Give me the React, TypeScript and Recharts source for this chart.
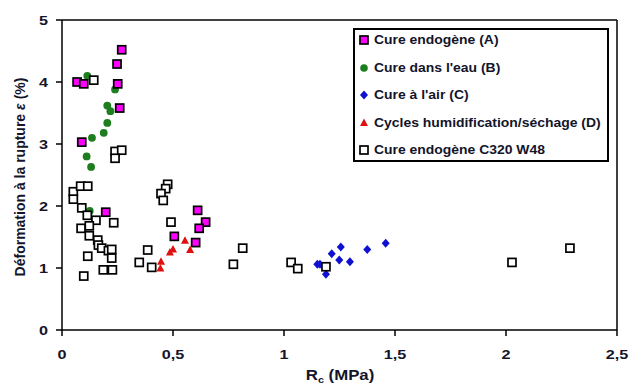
import React from 'react';
import { ScatterChart, Scatter, XAxis, YAxis, ReferenceLine } from 'recharts';

const seriesNames = [
  'Cure endogène (A)',
  "Cure dans l'eau (B)",
  "Cure à l'air (C)",
  'Cycles humidification/séchage (D)',
  'Cure endogène C320 W48',
];

const curingA = [
  { x: 0.269, y: 4.52 }, { x: 0.248, y: 4.29 }, { x: 0.068, y: 4.0 }, { x: 0.098, y: 3.97 },
  { x: 0.251, y: 3.97 }, { x: 0.26, y: 3.58 }, { x: 0.089, y: 3.03 }, { x: 0.197, y: 1.9 },
  { x: 0.611, y: 1.93 }, { x: 0.647, y: 1.74 }, { x: 0.618, y: 1.64 }, { x: 0.506, y: 1.51 },
  { x: 0.602, y: 1.41 },
];
const curingB = [
  { x: 0.114, y: 4.1 }, { x: 0.239, y: 3.88 }, { x: 0.204, y: 3.62 }, { x: 0.218, y: 3.53 },
  { x: 0.204, y: 3.34 }, { x: 0.188, y: 3.18 }, { x: 0.135, y: 3.1 }, { x: 0.111, y: 2.8 },
  { x: 0.131, y: 2.63 }, { x: 0.125, y: 1.92 },
];
const curingC = [
  { x: 1.256, y: 1.34 }, { x: 1.215, y: 1.23 }, { x: 1.375, y: 1.3 }, { x: 1.458, y: 1.4 },
  { x: 1.249, y: 1.13 }, { x: 1.297, y: 1.1 }, { x: 1.15, y: 1.06 }, { x: 1.162, y: 1.06 },
  { x: 1.189, y: 0.9 },
];
const curingD = [
  { x: 0.446, y: 1.1 }, { x: 0.443, y: 0.99 }, { x: 0.486, y: 1.25 }, { x: 0.5, y: 1.3 },
  { x: 0.554, y: 1.44 }, { x: 0.577, y: 1.29 },
];
const curingE = [
  { x: 0.143, y: 4.03 }, { x: 0.239, y: 2.88 }, { x: 0.269, y: 2.9 }, { x: 0.239, y: 2.77 },
  { x: 0.051, y: 2.23 }, { x: 0.051, y: 2.11 }, { x: 0.084, y: 2.32 }, { x: 0.116, y: 2.32 },
  { x: 0.089, y: 1.97 }, { x: 0.114, y: 1.85 }, { x: 0.153, y: 1.77 }, { x: 0.086, y: 1.64 },
  { x: 0.123, y: 1.68 }, { x: 0.123, y: 1.52 }, { x: 0.161, y: 1.45 }, { x: 0.164, y: 1.37 },
  { x: 0.179, y: 1.32 }, { x: 0.209, y: 1.28 }, { x: 0.224, y: 1.3 }, { x: 0.224, y: 1.16 },
  { x: 0.116, y: 1.19 }, { x: 0.186, y: 0.97 }, { x: 0.227, y: 0.97 }, { x: 0.098, y: 0.87 },
  { x: 0.233, y: 1.73 }, { x: 0.476, y: 2.35 }, { x: 0.467, y: 2.28 }, { x: 0.446, y: 2.2 },
  { x: 0.456, y: 2.09 }, { x: 0.491, y: 1.74 }, { x: 0.386, y: 1.29 }, { x: 0.348, y: 1.09 },
  { x: 0.404, y: 1.01 }, { x: 0.814, y: 1.32 }, { x: 0.772, y: 1.06 }, { x: 1.032, y: 1.09 },
  { x: 1.062, y: 0.99 }, { x: 1.189, y: 1.02 }, { x: 2.027, y: 1.09 }, { x: 2.288, y: 1.32 },
];

const xTicks = [0, 0.5, 1, 1.5, 2, 2.5];
const yTicks = [0, 1, 2, 3, 4, 5];

const TEXT = '#14142a';
const FONT = '"Liberation Sans", Arial, sans-serif';
const STRETCH = 1.2;

const SquareA = (p: any) => (
  <rect x={p.cx - 4} y={p.cy - 4} width={8} height={8} fill="#ff00ff" stroke="#000" strokeWidth={1.7} />
);
const CircleB = (p: any) => <circle cx={p.cx} cy={p.cy} r={3.9} fill="#1e7d1e" />;
const DiamondC = (p: any) => (
  <path d={`M${p.cx},${p.cy - 4.5}L${p.cx + 4},${p.cy}L${p.cx},${p.cy + 4.5}L${p.cx - 4},${p.cy}Z`} fill="#1010d0" />
);
const TriangleD = (p: any) => (
  <path d={`M${p.cx},${p.cy - 4.5}L${p.cx + 4},${p.cy + 3}L${p.cx - 4},${p.cy + 3}Z`} fill="#e01010" />
);
const SquareE = (p: any) => (
  <rect x={p.cx - 4} y={p.cy - 4} width={8} height={8} fill="#fff" stroke="#000" strokeWidth={1.7} />
);

const legendIcons = [
  <rect x={1} y={1} width={8} height={8} fill="#ff00ff" stroke="#000" strokeWidth={1.7} />,
  <circle cx={5} cy={5} r={3.8} fill="#1e7d1e" />,
  <path d="M5,0.5L9,5L5,9.5L1,5Z" fill="#1010d0" />,
  <path d="M5,0.5L9,8L1,8Z" fill="#e01010" />,
  <rect x={1} y={1} width={8} height={8} fill="#fff" stroke="#000" strokeWidth={1.7} />,
];

const LegendBox = () => (
  <div
    style={{
      position: 'absolute',
      left: 353,
      top: 28,
      border: '2px solid #000',
      width: 256,
      height: 134,
      boxSizing: 'border-box',
      padding: '0 0 0 4px',
      background: '#fff',
      fontFamily: FONT,
      fontWeight: 'bold',
      fontSize: 12,
      color: TEXT,
    }}
  >
    {seriesNames.map((n, i) => (
      <div key={n} style={{ display: 'flex', alignItems: 'center', height: 20, marginBottom: 7.5 }}>
        <svg width={10} height={10} style={{ marginRight: 5, flex: 'none' }}>{legendIcons[i]}</svg>
        <span style={{ display: 'inline-block', transform: `scaleX(1.16)`, transformOrigin: 'left center', whiteSpace: 'nowrap' }}>{n}</span>
      </div>
    ))}
  </div>
);

const YLabel = () => (
  <text
    x={0}
    y={0}
    transform="translate(25,177) rotate(-90)"
    textAnchor="middle"
    fontFamily={FONT}
    fontWeight="bold"
    fontSize={14}
    fill={TEXT}
  >
    Déformation à la rupture <tspan fontStyle="italic">ε</tspan> (%)
  </text>
);

const XLabel = () => (
  <text
    x={0}
    y={0}
    transform={`translate(340,380) scale(${STRETCH},1)`}
    textAnchor="middle"
    fontFamily={FONT}
    fontWeight="bold"
    fontSize={14}
    fill={TEXT}
  >
    R<tspan fontSize={9} dy={3}>c</tspan>
    <tspan dy={-3}> (MPa)</tspan>
  </text>
);

const XTick = (p: any) => (
  <g transform={`translate(${p.x},${p.y})`}>
    <text x={0} y={0} dy={17} transform={`scale(${STRETCH},1)`} textAnchor="middle" fontFamily={FONT} fontWeight="bold" fontSize={13.5} fill={TEXT}>
      {String(p.payload.value).replace('.', ',')}
    </text>
  </g>
);

const YTick = (p: any) => (
  <g transform={`translate(${p.x},${p.y})`}>
    <text x={0} y={0} dy={5} transform={`scale(${STRETCH},1)`} textAnchor="end" fontFamily={FONT} fontWeight="bold" fontSize={13.5} fill={TEXT}>
      {String(p.payload.value)}
    </text>
  </g>
);

export default function App() {
  return (
    <div style={{ position: 'absolute', left: 0, top: 0, width: 631, height: 388, background: '#fff' }}>
      <ScatterChart width={631} height={388} margin={{ top: 20, right: 14, bottom: 0, left: 0 }}>
        <XAxis
          type="number"
          dataKey="x"
          domain={[0, 2.5]}
          ticks={xTicks}
          height={58}
          stroke="#000"
          strokeWidth={1.5}
          tickSize={6}
          tickMargin={6}
          tick={<XTick />}
          label={<XLabel />}
          interval={0}
        />
        <YAxis
          type="number"
          dataKey="y"
          domain={[0, 5]}
          ticks={yTicks}
          width={62}
          stroke="#000"
          strokeWidth={1.5}
          tickSize={6}
          tickMargin={8}
          tick={<YTick />}
          label={<YLabel />}
          interval={0}
        />
        <ReferenceLine y={5} stroke="#000" strokeWidth={1.5} />
        <ReferenceLine x={2.5} stroke="#000" strokeWidth={1.5} />
        <Scatter name={seriesNames[1]} data={curingB} shape={CircleB} isAnimationActive={false} />
        <Scatter name={seriesNames[0]} data={curingA} shape={SquareA} isAnimationActive={false} />
        <Scatter name={seriesNames[2]} data={curingC} shape={DiamondC} isAnimationActive={false} />
        <Scatter name={seriesNames[3]} data={curingD} shape={TriangleD} isAnimationActive={false} />
        <Scatter name={seriesNames[4]} data={curingE} shape={SquareE} isAnimationActive={false} />
      </ScatterChart>
      <LegendBox />
    </div>
  );
}
